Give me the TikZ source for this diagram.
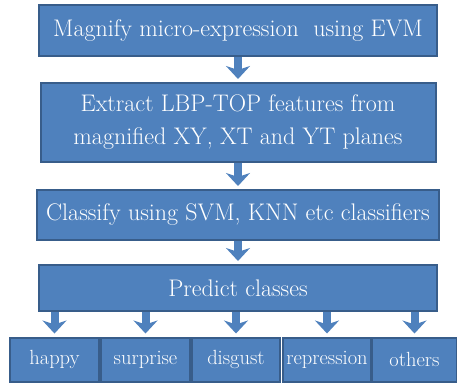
\documentclass[tikz,border=0pt]{standalone}
\usetikzlibrary{arrows.meta}
\definecolor{boxblue}{HTML}{4F81BD}
\definecolor{boxedge}{HTML}{385D8A}
\tikzset{
  stage/.style={draw=boxedge, line width=2pt, fill=boxblue, text=white,
    inner sep=1pt, align=center, font=\rmfamily\fontsize{24}{33}\selectfont},
  cls/.style={stage, font=\rmfamily\fontsize{20.5}{24}\selectfont},
  flow/.style={draw=boxblue, line width=8pt, shorten >=3pt,
    -{Stealth[length=13pt, width=24pt, inset=4pt]}}
}
\begin{document}
\begin{tikzpicture}[x=1pt,y=1pt]
\useasboundingbox (0,0) rectangle (457,-383);

\node[stage, minimum width=398pt, minimum height=51pt] (magnify) at (238,-30.5) {Magnify micro-expression\ \ using EVM};
\node[stage, minimum width=395pt, minimum height=79pt] (extract) at (238,-122.5) {Extract LBP-TOP features from\\magnified XY, XT and YT planes};
\node[stage, minimum width=402pt, minimum height=50pt] (classify) at (238,-215) {Classify using SVM, KNN etc classifiers};
\node[stage, minimum width=398pt, minimum height=46pt] (predict) at (238,-288) {Predict classes};

\node[cls, minimum width=89pt, minimum height=44pt] (happy) at (54.5,-359.5) {happy};
\node[cls, minimum width=89pt, minimum height=44pt] (surprise) at (145.5,-359.5) {surprise};
\node[cls, minimum width=88pt, minimum height=44pt] (disgust) at (236,-359.5) {disgust};
\node[cls, minimum width=88pt, minimum height=44pt] (repression) at (327,-359.5) {repression};
\node[cls, minimum width=85pt, minimum height=44pt] (others) at (414.5,-359.5) {others};

\draw[flow] (magnify) -- (extract);
\draw[flow] (extract) -- (classify);
\draw[flow] (classify) -- (predict);

\foreach \c in {happy,surprise,disgust,repression,others}
  \draw[flow] (predict.south -| \c) -- (\c);
\end{tikzpicture}
\end{document}
